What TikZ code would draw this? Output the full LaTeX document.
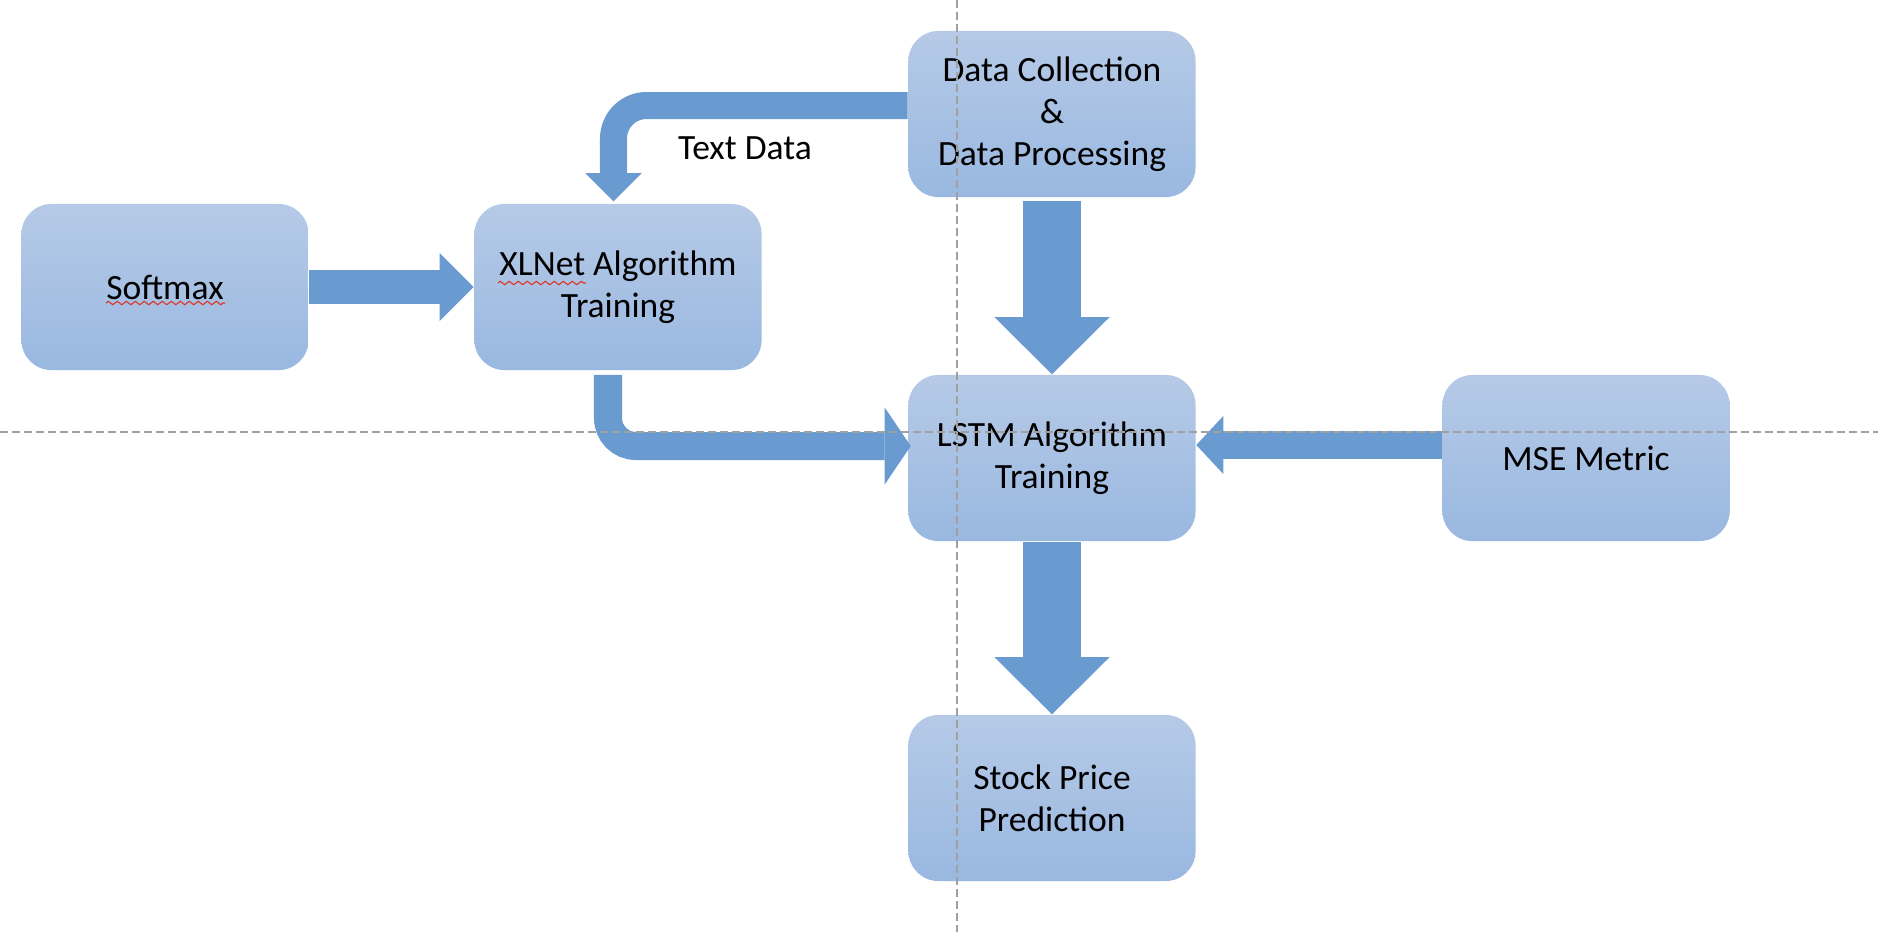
\documentclass[tikz,border=0pt]{standalone}
\usepackage{fontspec}
\setmainfont{Carlito}
\usepackage{tikz}
\usetikzlibrary{arrows.meta,decorations.pathmorphing}
\definecolor{boxTop}{HTML}{B6CAE7}
\definecolor{boxBottom}{HTML}{99B8E0}
\definecolor{arrowBlue}{HTML}{6A9BD0}
\definecolor{guide}{HTML}{A0A0A0}
\definecolor{spellRed}{HTML}{E0301E}
\tikzset{
  flowBox/.style={rounded corners=3mm, top color=boxTop, bottom color=boxBottom,
    minimum width=2.87cm, minimum height=1.66cm, inner sep=0pt, align=center,
    font=\fontsize{10.1}{11.95}\selectfont},
  flowArrow/.style={draw=arrowBlue},
  flowLabel/.style={font=\fontsize{10.1}{11.95}\selectfont},
  guideLine/.style={draw=guide, line width=0.45pt, dash pattern=on 0.8mm off 0.4mm},
  spellMark/.style={draw=spellRed, line width=0.3pt, decorate,
    decoration={zigzag, segment length=0.9mm, amplitude=0.17mm}}
}

\begin{document}
\begin{tikzpicture}[x=0.01cm, y=-0.01cm]
  \useasboundingbox (0,0) rectangle (1878,932);

  \node[flowBox] (softmax) at (165,287) {Softmax};
  \node[flowBox] (xlnet) at (618,287) {XLNet Algorithm\\Training};
  \node[flowBox] (dataProc) at (1052,114) {Data Collection\\\&\\Data Processing};
  \node[flowBox] (lstm) at (1052,458) {LSTM Algorithm\\Training};
  \node[flowBox] (mse) at (1586,458) {MSE Metric};
  \node[flowBox] (stockPred) at (1052,798) {Stock Price\\Prediction};

  \draw[flowArrow, line width=3.4mm, -{Triangle[width=6.8mm, length=3.4mm, line width=0pt]}]
    (softmax.east) -- (xlnet.west);
  \draw[flowArrow, line width=5.8mm, -{Triangle[width=11.5mm, length=5.7mm, line width=0pt]}]
    ([yshift=-0.3mm]dataProc.south) -- (lstm.north);
  \draw[flowArrow, line width=5.8mm, -{Triangle[width=11.5mm, length=5.7mm, line width=0pt]}]
    (lstm.south) -- (stockPred.north);
  \draw[flowArrow, line width=2.8mm, -{Triangle[width=5.8mm, length=2.7mm, line width=0pt]}]
    ([yshift=1.3mm]mse.west) -- ([yshift=1.3mm]lstm.east);
  \draw[flowArrow, line width=2.8mm, rounded corners=2.8mm, -{Triangle[width=7.7mm, length=2.6mm, line width=0pt]}]
    ([xshift=-1mm, yshift=-0.4mm]xlnet.south) |- ([xshift=0.3mm, yshift=1.2mm]lstm.west);
  \draw[flowArrow, line width=2.7mm, rounded corners=3.3mm, -{Triangle[width=5.6mm, length=2.8mm, line width=0pt]}]
    ([yshift=0.85mm]dataProc.west) -| ([xshift=-0.45mm, yshift=0.2mm]xlnet.north);
  \node[flowLabel] (textData) at (745,148) {Text Data};

  \draw[spellMark] (106,303) -- (225,303);
  \draw[spellMark] (498,283) -- (586,283);

  \draw[guideLine] (957,0) -- (957,932);
  \draw[guideLine] (0,432) -- (1878,432);
\end{tikzpicture}
\end{document}
